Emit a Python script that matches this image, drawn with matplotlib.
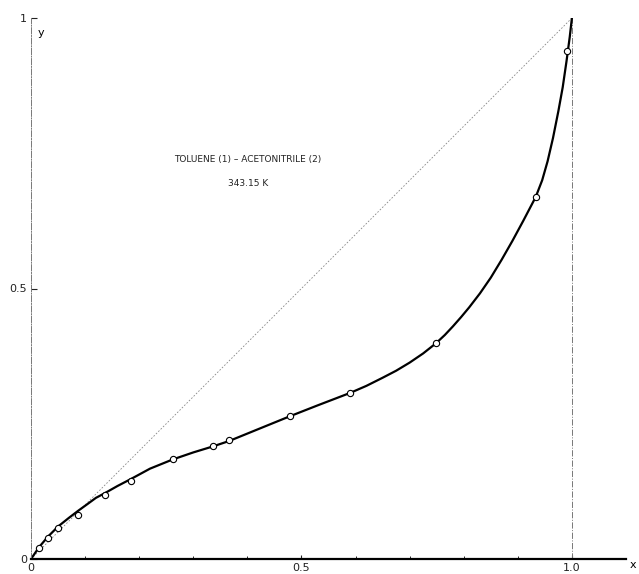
import matplotlib
matplotlib.use("Agg")
import matplotlib.pyplot as plt
from matplotlib import rc

rc('font', family='DejaVu Sans')
rc('font', size=8)

# measured points, x1 (liquid) vs y1 (vapour)
x_pts = [0.015, 0.031, 0.050, 0.087, 0.137, 0.185, 0.262, 0.336, 0.366,
         0.479, 0.590, 0.749, 0.933, 0.991]
y_pts = [0.020, 0.039, 0.057, 0.081, 0.118, 0.144, 0.185, 0.209, 0.220,
         0.264, 0.307, 0.399, 0.669, 0.939]

# smooth curve
x_curve = [0.0, 0.015, 0.031, 0.05, 0.07, 0.087, 0.105, 0.12, 0.137, 0.16,
           0.185, 0.22, 0.262, 0.30, 0.336, 0.366, 0.42, 0.479, 0.53, 0.59,
           0.62, 0.65, 0.675, 0.70, 0.725, 0.749, 0.765, 0.78, 0.795, 0.81,
           0.83, 0.85, 0.87, 0.89, 0.91, 0.933, 0.945, 0.955, 0.965, 0.975,
           0.983, 0.99, 0.996, 1.0]
y_curve = [0.0, 0.022, 0.041, 0.060, 0.076, 0.089, 0.102, 0.113, 0.122, 0.135,
           0.148, 0.167, 0.184, 0.197, 0.208, 0.218, 0.240, 0.264, 0.284, 0.307,
           0.320, 0.335, 0.348, 0.363, 0.380, 0.399, 0.414, 0.430, 0.447, 0.465,
           0.491, 0.520, 0.553, 0.588, 0.625, 0.669, 0.700, 0.735, 0.778, 0.828,
           0.872, 0.920, 0.965, 1.0]

diag = [0.0, 1.0]

xtick_pos = [0.0, 0.5, 1.0]
xtick_lab = ['0', '0.5', '1.0']
ytick_pos = [0.0, 0.5, 1.0]
ytick_lab = ['0', '0.5', '1']

title1 = 'TOLUENE (1) \u2013 ACETONITRILE (2)'
title2 = '343.15 K'

fig = plt.figure(figsize=(6.39, 5.74), dpi=100)
ax = fig.add_axes([31/639., 15/574., 595/639., 541/574.])

ax.plot(diag, diag, color='#888888', lw=0.6, ls=(0, (2, 2)))
ax.plot([1.0, 1.0], [0.0, 1.0], color='#777777', lw=0.7, ls='-.')
ax.plot(x_curve, y_curve, color='black', lw=1.6, solid_joinstyle='round',
        solid_capstyle='round')
ax.plot(x_pts, y_pts, 'o', ms=4.5, mfc='white', mec='black', mew=0.8)

ax.set_xlim(0, 1.1)
ax.set_ylim(0, 1.0)

for s in ['top', 'right']:
    ax.spines[s].set_visible(False)
ax.spines['bottom'].set_linewidth(1.6)
ax.spines['left'].set_linewidth(0.7)
ax.spines['left'].set_color('#777777')
ax.spines['left'].set_linestyle('-.')

ax.set_xticks(xtick_pos)
ax.set_xticklabels(xtick_lab)
ax.set_yticks(ytick_pos)
ax.set_yticklabels(ytick_lab)
ax.set_xticks([0.1 * i for i in range(1, 11)], minor=True)
ax.tick_params(axis='x', direction='in', length=3, width=0.8, pad=3,
               labelsize=8, colors='#222222')
ax.tick_params(axis='x', which='minor', direction='in', length=2, width=0.6)
ax.tick_params(axis='y', direction='in', length=4, width=0.8, pad=3,
               labelsize=8, colors='#222222')

ax.text(1.112, -0.012, 'x', fontsize=8, ha='center', va='center',
        clip_on=False)
ax.text(0.012, 0.972, 'y', fontsize=8, ha='left', va='center')

ax.text(0.401, 0.738, title1, fontsize=6.5, ha='center', va='center',
        color='#222222')
ax.text(0.401, 0.695, title2, fontsize=6.5, ha='center', va='center',
        color='#222222')

fig.savefig('out.png', dpi=100)
